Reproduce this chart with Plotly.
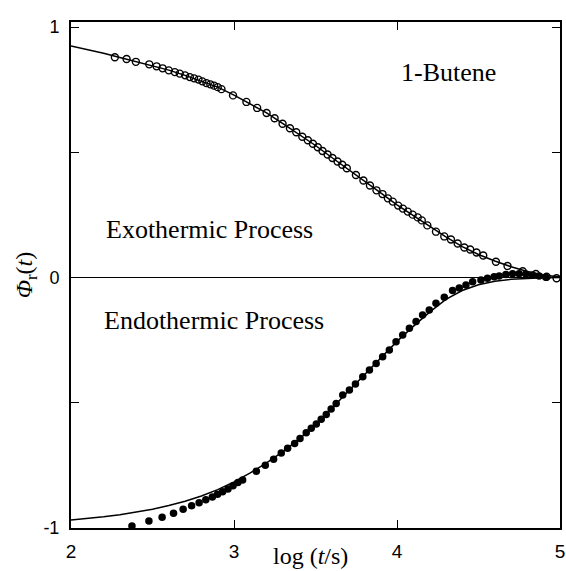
import plotly.graph_objects as go

# Exothermic process: measured relaxation (open circles)
exo_logt = [2.269, 2.341, 2.398, 2.480, 2.525, 2.562, 2.600, 2.637, 2.667, 2.700,
            2.729, 2.755, 2.782, 2.806, 2.831, 2.855, 2.878, 2.900, 2.923, 2.994,
            3.076, 3.142, 3.200, 3.249, 3.298, 3.343, 3.382, 3.419, 3.453, 3.484,
            3.514, 3.543, 3.574, 3.604, 3.635, 3.664, 3.692, 3.748, 3.794, 3.834,
            3.874, 3.911, 3.944, 3.974, 4.007, 4.036, 4.066, 4.096, 4.127, 4.152,
            4.186, 4.239, 4.290, 4.331, 4.372, 4.413, 4.449, 4.488, 4.529, 4.607,
            4.678, 4.771, 4.852, 4.918, 4.979]
exo_phi = [0.879, 0.872, 0.861, 0.851, 0.843, 0.835, 0.827, 0.820, 0.814, 0.807,
           0.800, 0.795, 0.790, 0.783, 0.776, 0.771, 0.766, 0.760, 0.752, 0.727,
           0.701, 0.677, 0.657, 0.636, 0.614, 0.596, 0.580, 0.562, 0.548, 0.534,
           0.520, 0.505, 0.491, 0.477, 0.463, 0.450, 0.436, 0.409, 0.387, 0.367,
           0.348, 0.333, 0.316, 0.303, 0.287, 0.275, 0.263, 0.251, 0.240, 0.228,
           0.208, 0.183, 0.164, 0.152, 0.136, 0.120, 0.112, 0.100, 0.088, 0.063,
           0.046, 0.025, 0.014, 0.003, -0.003]

# Endothermic process: measured relaxation (filled circles)
endo_logt = [2.374, 2.478, 2.559, 2.629, 2.688, 2.740, 2.786, 2.827, 2.867, 2.899,
             2.930, 2.963, 2.994, 3.024, 3.053, 3.137, 3.192, 3.243, 3.290, 3.329,
             3.372, 3.405, 3.443, 3.474, 3.505, 3.535, 3.566, 3.596, 3.627, 3.667,
             3.708, 3.745, 3.790, 3.831, 3.872, 3.912, 3.953, 3.994, 4.035, 4.076,
             4.117, 4.157, 4.198, 4.239, 4.290, 4.341, 4.382, 4.423, 4.464, 4.515,
             4.555, 4.596, 4.627, 4.668, 4.709, 4.749, 4.791, 4.831, 4.872, 4.913]
endo_phi = [-0.992, -0.972, -0.957, -0.941, -0.925, -0.911, -0.899, -0.887, -0.876, -0.865,
            -0.855, -0.844, -0.831, -0.818, -0.808, -0.773, -0.749, -0.726, -0.701, -0.682,
            -0.663, -0.643, -0.620, -0.602, -0.585, -0.566, -0.547, -0.525, -0.503, -0.469,
            -0.449, -0.425, -0.396, -0.369, -0.343, -0.316, -0.289, -0.256, -0.230, -0.203,
            -0.176, -0.150, -0.130, -0.103, -0.079, -0.052, -0.042, -0.030, -0.017, -0.010,
            -0.003, 0.003, 0.006, 0.012, 0.015, 0.015, 0.014, 0.010, 0.006, 0.001]

# Calculated curves
fit_logt = [2.0, 2.1, 2.2, 2.3, 2.4, 2.5, 2.6, 2.7, 2.8, 2.9, 3.0,
            3.1, 3.2, 3.3, 3.4, 3.5, 3.6, 3.7, 3.8, 3.9, 4.0,
            4.1, 4.2, 4.3, 4.4, 4.5, 4.6, 4.7, 4.8, 4.9, 5.0]
fit_exo = [0.924, 0.910, 0.895, 0.878, 0.862, 0.846, 0.828, 0.807, 0.785, 0.760, 0.728,
           0.694, 0.657, 0.614, 0.572, 0.527, 0.479, 0.433, 0.385, 0.338, 0.290,
           0.247, 0.202, 0.162, 0.123, 0.092, 0.066, 0.043, 0.024, 0.010, 0.002]
fit_endo = [-0.968, -0.962, -0.955, -0.947, -0.937, -0.925, -0.910, -0.893, -0.872, -0.847, -0.816,
            -0.780, -0.740, -0.695, -0.645, -0.587, -0.522, -0.455, -0.388, -0.320, -0.255,
            -0.195, -0.138, -0.087, -0.052, -0.029, -0.015, -0.007, -0.003, -0.001, 0.000]

x_ticks = [2, 3, 4, 5]
y_ticks = [-1, -0.5, 0, 0.5, 1]
y_ticktext = ["-1", "", "0", "", "1"]

serif = "Liberation Serif, Times New Roman, serif"
sans = "Liberation Sans, Arial, sans-serif"

fig = go.Figure()

fig.add_trace(go.Scatter(x=fit_logt, y=fit_exo, mode="lines",
                         line=dict(color="black", width=1.5), showlegend=False))
fig.add_trace(go.Scatter(x=fit_logt, y=fit_endo, mode="lines",
                         line=dict(color="black", width=1.5), showlegend=False))
fig.add_trace(go.Scatter(x=exo_logt, y=exo_phi, mode="markers",
                         marker=dict(symbol="circle-open", size=7, color="black",
                                     line=dict(width=1.4, color="black")),
                         showlegend=False))
fig.add_trace(go.Scatter(x=endo_logt, y=endo_phi, mode="markers",
                         marker=dict(symbol="circle", size=7.5, color="black"),
                         showlegend=False))

fig.add_annotation(x=4.315, y=0.82, text="1-Butene", showarrow=False,
                   font=dict(family=serif, size=26, color="black"))
fig.add_annotation(x=2.2, y=0.19, text="Exothermic Process", showarrow=False,
                   xanchor="left", font=dict(family=serif, size=26, color="black"))
fig.add_annotation(x=2.19, y=-0.17, text="Endothermic Process", showarrow=False,
                   xanchor="left", font=dict(family=serif, size=26, color="black"))

# x-axis title sits between the tick labels, close to the frame
fig.add_annotation(x=0.49, y=-0.056, xref="paper", yref="paper",
                   text="log (<i>t</i>/s)", showarrow=False, yanchor="middle",
                   font=dict(family=serif, size=24, color="black"))

fig.update_xaxes(range=[2, 5], tickvals=x_ticks, ticktext=[str(v) for v in x_ticks],
                 ticks="inside", ticklen=8, tickwidth=1.2, tickcolor="black",
                 showline=True, linewidth=2, linecolor="black", mirror="ticks",
                 showgrid=False, zeroline=False, ticklabelstandoff=5, automargin=False,
                 tickfont=dict(family=sans, size=19, color="black"))
fig.update_yaxes(range=[-1, 1.02], tickvals=y_ticks, ticktext=y_ticktext,
                 ticks="inside", ticklen=8, tickwidth=1.2, tickcolor="black",
                 showline=True, linewidth=2, linecolor="black", mirror="ticks",
                 showgrid=False, zeroline=True, zerolinecolor="black", zerolinewidth=1.2,
                 ticklabelstandoff=6, automargin=False,
                 tickfont=dict(family=sans, size=18, color="black"),
                 title=dict(text="<i>Φ</i><sub>r</sub>(<i>t</i>)", standoff=4,
                            font=dict(family=serif, size=24, color="black")))

fig.update_layout(width=566, height=571, margin=dict(l=71, r=6, t=22, b=43),
                  paper_bgcolor="white", plot_bgcolor="white")

fig.write_html("out.html")
